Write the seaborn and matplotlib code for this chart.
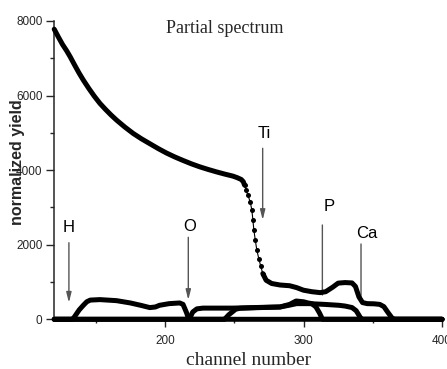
import matplotlib
matplotlib.use("Agg")
import matplotlib.pyplot as plt
import seaborn as sns
import pandas as pd
import numpy as np

# ---- data ----
# total spectrum: smooth upper part
main_upper_ch = [120, 123, 126, 129, 131.5, 135, 138, 141, 145, 149, 153, 157, 161, 165, 171,
                 177, 183, 189, 195, 201, 207, 213, 219, 225, 231, 237, 243, 249, 252, 255,
                 256.5, 257.4]
main_upper_y = [7780, 7570, 7370, 7200, 7042, 6800, 6600, 6416, 6190, 5980, 5790, 5630, 5480,
                5342, 5155, 4985, 4840, 4710, 4580, 4460, 4355, 4260, 4170, 4090, 4020, 3955,
                3895, 3840, 3800, 3750, 3690, 3600]
# steep drop (individual points visible)
main_drop_ch = [257.4, 258.6, 259.8, 261.5, 262.7, 263.4, 264.1, 265.1, 266.3, 267.7, 269.1, 270.6]
main_drop_y = [3597, 3463, 3329, 3150, 2926, 2676, 2408, 2140, 1852, 1628, 1423, 1226]
# tail
main_tail_ch = [270.6, 273, 277, 283, 290, 295, 300, 306, 312, 316, 321, 325, 330, 335, 337.5,
                340, 342.6, 346, 351, 355, 358, 361, 364, 366, 380, 400]
main_tail_y = [1226, 1047, 960, 920, 900, 850, 780, 740, 715, 740, 860, 970, 985, 975, 880,
               600, 448, 420, 415, 400, 340, 180, 30, 0, 0, 0]

# partial spectra
h_ch = [120, 133, 134.5, 138, 141, 143.5, 146, 153, 165, 175, 183, 189, 193, 196, 203, 210.6,
        213, 214.2, 215.5, 216.6, 218, 400]
h_y = [0, 0, 60, 250, 375, 470, 515, 528, 500, 438, 370, 314, 330, 375, 420, 438,
       400, 295, 180, 60, 0, 0]
o_ch = [120, 216.5, 218.5, 220, 223, 227.4, 235, 249, 260, 270, 283, 290, 295, 304, 315,
        325.7, 330, 335, 338, 340, 341.3, 342, 400]
o_y = [0, 0, 80, 195, 280, 300, 300, 300, 310, 320, 330, 380, 420, 420, 400,
       375, 355, 315, 230, 110, 30, 0, 0]
b_ch = [120, 242, 243, 246, 251, 254, 265, 283, 290, 294.6, 300, 303, 306, 309, 311.5, 313.7, 400]
b_y = [0, 0, 0, 120, 270, 295, 310, 330, 400, 490, 470, 440, 420, 330, 170, 0, 0]

# annotation labels: text, text position, arrow tail, arrow tip, has head
ann_text = ["H", "O", "Ti", "P", "Ca"]
ann_text_xy = [(130.6, 2462), (217.8, 2483), (271.5, 4996), (318.4, 3038), (345.8, 2296)]
ann_tail = [(130.6, 2054), (216.8, 2199), (270.5, 4586), (313.6, 2529), (341.5, 2019)]
ann_tip = [(130.6, 445), (216.8, 518), (270.5, 2663), (313.6, 652), (341.5, 472)]
ann_head = [True, True, True, False, False]

x_major = [200, 300, 400]
x_minor = [150, 250, 350]
y_major = [0, 2000, 4000, 6000, 8000]
y_minor = [1000, 3000, 5000, 7000]

# ---- plotting ----
sns.set_style("ticks")
plt.rcParams["font.family"] = ["Liberation Sans", "DejaVu Sans"]

fig = plt.figure(figsize=(4.47, 3.69), dpi=100)
ax = fig.add_axes([0.1213, 0.1347, 0.8676, 0.8084])

lw = 3.6
for cx, cy in [(h_ch, h_y), (o_ch, o_y), (b_ch, b_y)]:
    df = pd.DataFrame({"ch": cx, "y": cy})
    sns.lineplot(data=df, x="ch", y="y", ax=ax, color="black", lw=lw,
                 sort=False, estimator=None, clip_on=False, zorder=3)

for cx, cy in [(main_upper_ch, main_upper_y), (main_tail_ch, main_tail_y)]:
    df = pd.DataFrame({"ch": cx, "y": cy})
    sns.lineplot(data=df, x="ch", y="y", ax=ax, color="black", lw=lw,
                 sort=False, estimator=None, clip_on=False, zorder=3,
                 solid_capstyle="round", solid_joinstyle="round")

df_drop = pd.DataFrame({"ch": main_drop_ch, "y": main_drop_y})
sns.lineplot(data=df_drop, x="ch", y="y", ax=ax, color="black", lw=0.8,
             marker="o", markersize=3.6, markeredgewidth=0, sort=False,
             estimator=None, zorder=3)

for t, txy, tail, tip, head in zip(ann_text, ann_text_xy, ann_tail, ann_tip, ann_head):
    ax.text(txy[0], txy[1], t, ha="center", va="center", fontsize=12,
            family=["Liberation Sans", "DejaVu Sans"], color="black")
    style = "-|>,head_length=0.6,head_width=0.15" if head else "-"
    ax.annotate("", xy=tip, xytext=tail,
                arrowprops=dict(arrowstyle=style, color="#555555", lw=1.0,
                                shrinkA=0, shrinkB=0), zorder=1)

ax.set_xlim(120, 400)
ax.set_ylim(0, 8000)
ax.set_xticks(x_major)
ax.set_xticks(x_minor, minor=True)
ax.set_yticks(y_major)
ax.set_yticks(y_minor, minor=True)
ax.tick_params(which="major", direction="out", length=5.5, width=1, labelsize=8.5, pad=3)
ax.tick_params(axis="x", which="major", pad=6)
ax.tick_params(which="minor", direction="out", length=3, width=1)
for s in ["top", "right"]:
    ax.spines[s].set_visible(False)
for s in ["left", "bottom"]:
    ax.spines[s].set_linewidth(1.1)

ax.set_xlabel("channel number", fontsize=14, family=["Liberation Serif", "DejaVu Serif"])
ax.xaxis.set_label_coords(0.5, -0.152)
ax.xaxis.label.set_va("baseline")
ax.set_ylabel("normalized yield", fontsize=11.5, fontweight="bold")
ax.yaxis.set_label_coords(-0.094, 0.527)
ax.yaxis.label.set_va("center")

ax.text(0.44, 0.96, "Partial spectrum", transform=ax.transAxes, ha="center",
        va="baseline", fontsize=13, family=["Liberation Serif", "DejaVu Serif"])

fig.savefig("out.png", dpi=100)
